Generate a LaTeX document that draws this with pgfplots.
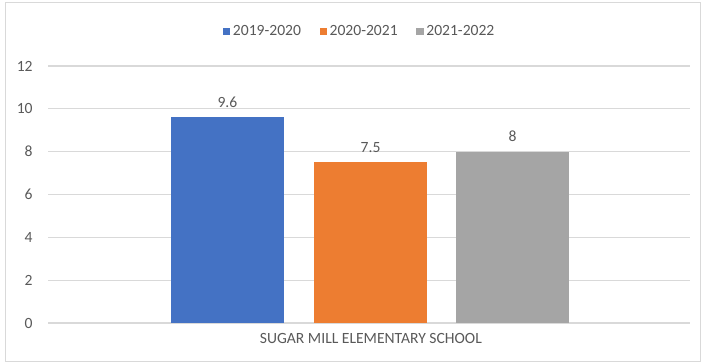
\documentclass[border=0pt]{standalone}
\usepackage{pgfplots}
\pgfplotsset{compat=1.18}
\usepackage{fontspec}
\setmainfont{Carlito}
\definecolor{cblue}{HTML}{4472C4}
\definecolor{corange}{HTML}{ED7D31}
\definecolor{cgray}{HTML}{A5A5A5}
\definecolor{txt}{HTML}{595959}
\definecolor{gridc}{HTML}{D9D9D9}
\begin{document}
\begin{tikzpicture}[x=0.75pt,y=0.75pt]
% page frame (1 unit = 1 pixel of the reference, origin at plot lower left)
\path (-48,-40) rectangle (654,323);
\draw[gridc] (-43,-38) rectangle (652,321);
\begin{axis}[
    at={(0,0)}, anchor=south west,
    scale only axis,
    width=481.5pt, height=192.75pt,
    xmin=-1, xmax=1,
    ymin=0, ymax=12,
    ytick={0,2,4,6,8,10,12},
    xtick={0.006}, xticklabels={SUGAR MILL ELEMENTARY SCHOOL},
    ymajorgrids=true,
    grid style={gridc, line width=0.8pt},
    axis line style={draw=none},
    major tick length=0pt,
    font=\fontsize{11.7}{14}\selectfont,
    ticklabel style={text=txt, font=\fontsize{11.7}{14}\selectfont},
    yticklabel style={xshift=-8pt},
    xticklabel style={yshift=-4pt},
    /pgf/number format/assume math mode=true,
    ybar, bar width=0.352,
    nodes near coords,
    nodes near coords style={text=txt, font=\fontsize{11.7}{14}\selectfont, yshift=4pt},
    legend columns=3,
    legend style={draw=none, at={(0.486,1.136)}, anchor=center,
        font=\fontsize{11.7}{14}\selectfont, text=txt,
        /tikz/every even column/.append style={column sep=12pt}},
    legend image code/.code={\fill[#1] (0pt,-3pt) rectangle (5.5pt,2.5pt);},
]
\addplot[fill=cblue, draw=none, bar shift=-0.441] coordinates {(0,9.6)};
\addplot[fill=corange, draw=none, bar shift=0.005] coordinates {(0,7.5)};
\addplot[fill=cgray, draw=none, bar shift=0.447] coordinates {(0,8)};
\legend{2019-2020,2020-2021,2021-2022}
\end{axis}
\end{tikzpicture}
\end{document}
